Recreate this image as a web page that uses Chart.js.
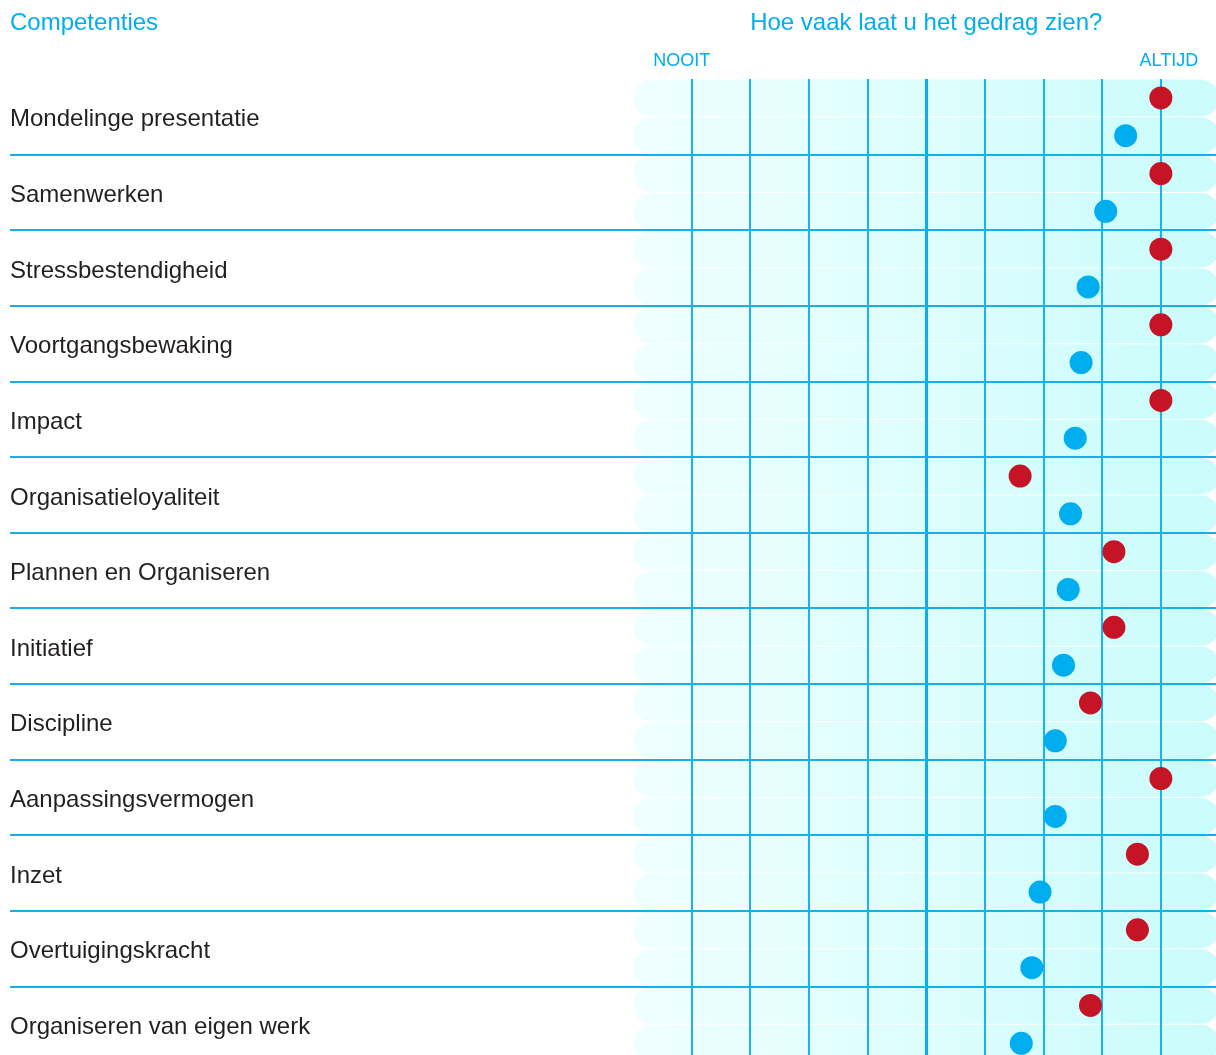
<!DOCTYPE html>
<html>
<head>
<meta charset="utf-8">
<script src="https://cdn.jsdelivr.net/npm/chart.js@4/dist/chart.umd.min.js"></script>
<style>
  html, body { margin: 0; padding: 0; background: #fff; overflow: hidden; }
  #wrap { width: 1216px; height: 1055px; }
  canvas { display: block; }
</style>
</head>
<body>
<div id="wrap"><canvas id="myChart" width="1216" height="1055"></canvas></div>
<script>
"use strict";

// competencies, top to bottom
var competencies = [
    "Mondelinge presentatie", "Samenwerken", "Stressbestendigheid", "Voortgangsbewaking",
    "Impact", "Organisatieloyaliteit", "Plannen en Organiseren", "Initiatief",
    "Discipline", "Aanpassingsvermogen", "Inzet", "Overtuigingskracht",
    "Organiseren van eigen werk"
];
// 1 = NOOIT, 5 = ALTIJD
var redScores  = [5, 5, 5, 5, 5, 3.8, 4.6, 4.6, 4.4, 5, 4.8, 4.8, 4.4];
var blueScores = [4.7, 4.53, 4.38, 4.32, 4.27, 4.23, 4.21, 4.17, 4.1, 4.1, 3.97, 3.9, 3.81];
var scaleLabels = ["NOOIT", "ALTIJD"];
var titleLeft = "Competenties";
var titleRight = "Hoe vaak laat u het gedrag zien?";

var BLUE = '#00aeef';
var FONT = "'Liberation Sans', Arial, sans-serif";

var bandPlugin = {
    id: 'band',
    beforeDraw: function(chart) {
        var ctx = chart.ctx, area = chart.chartArea, y = chart.scales.y;
        var grad = ctx.createLinearGradient(area.left, 0, area.right, 0);
        grad.addColorStop(0, '#f0ffff');
        grad.addColorStop(1, '#cafcfb');
        ctx.save();
        ctx.fillStyle = grad;
        for (var k = 0; k < competencies.length * 2; k++) {
            var top = y.getPixelForValue(k * 0.5) + 0.5;
            var bot = y.getPixelForValue((k + 1) * 0.5) - 0.5;
            var h = bot - top;
            ctx.beginPath();
            ctx.roundRect(area.left, top, area.right + 3 - area.left, h, h / 2);
            ctx.fill();
        }
        ctx.restore();
    }
};

var textPlugin = {
    id: 'texts',
    beforeDatasetsDraw: function(chart) {
        var ctx = chart.ctx, y = chart.scales.y, x = chart.scales.x;
        ctx.save();
        // row separators
        ctx.strokeStyle = '#1aaee6';
        ctx.lineWidth = 2;
        for (var i = 1; i < competencies.length; i++) {
            var py = Math.round(y.getPixelForValue(i));
            ctx.beginPath();
            ctx.moveTo(10, py);
            ctx.lineTo(chart.width, py);
            ctx.stroke();
        }
        // row labels
        ctx.fillStyle = '#231f20';
        ctx.font = '24px ' + FONT;
        ctx.textBaseline = 'middle';
        ctx.textAlign = 'left';
        competencies.forEach(function(name, i) {
            ctx.fillText(name, 10, y.getPixelForValue(i + 0.5) + 3);
        });
        // headers
        ctx.fillStyle = BLUE;
        ctx.fillText(titleLeft, 10, 23);
        ctx.textAlign = 'center';
        ctx.fillText(titleRight, x.getPixelForValue(3), 23);
        ctx.font = '18px ' + FONT;
        ctx.fillText(scaleLabels[0], x.getPixelForValue(1) - 10, 61);
        ctx.fillText(scaleLabels[1], x.getPixelForValue(5) + 8, 61);
        ctx.restore();
    }
};

var myChart = document.getElementById('myChart').getContext('2d');
var chart = new Chart(myChart, {
    type: 'scatter',
    data: {
        datasets: [{
            label: 'rood',
            data: redScores.map(function(v, i) { return { x: v, y: i + 0.25 }; }),
            backgroundColor: '#c41425',
            pointRadius: 11.5,
            pointHoverRadius: 11.5,
            borderWidth: 0
        },
        {
            label: 'blauw',
            data: blueScores.map(function(v, i) { return { x: v, y: i + 0.75 }; }),
            backgroundColor: BLUE,
            pointRadius: 11.5,
            pointHoverRadius: 11.5,
            borderWidth: 0
        }]
    },
    options: {
        responsive: false,
        animation: false,
        layout: { autoPadding: false, padding: { left: 633, top: 79, right: 0, bottom: 0 } },
        plugins: { legend: { display: false }, tooltip: { enabled: false } },
        scales: {
            x: {
                type: 'linear',
                position: 'top',
                min: 0.5,
                max: 5.47,
                ticks: { display: false, stepSize: 0.5 },
                border: { display: false },
                grid: {
                    drawTicks: false,
                    color: function(c) {
                        var v = c.tick ? c.tick.value : 0;
                        if (v < 1 || v > 5) return 'rgba(0,0,0,0)';
                        return v === 3 ? '#0aaee8' : '#1ab4ec';
                    },
                    lineWidth: function(c) {
                        return (c.tick && c.tick.value === 3) ? 3 : 2;
                    }
                }
            },
            y: {
                type: 'linear',
                min: 0,
                max: 12.905,
                reverse: true,
                display: false
            }
        }
    },
    plugins: [bandPlugin, textPlugin]
});
</script>
</body>
</html>
